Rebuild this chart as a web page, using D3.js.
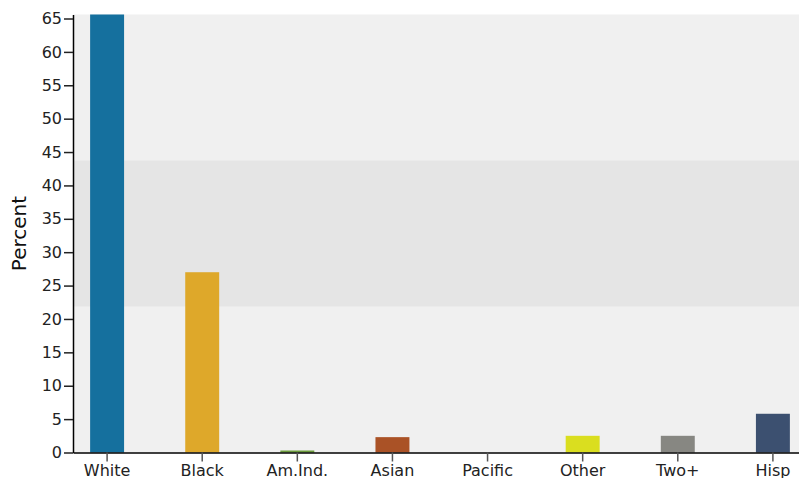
<!DOCTYPE html>
<html><head><meta charset="utf-8">
<script src="https://cdn.jsdelivr.net/npm/d3@7"></script>
<style>body{margin:0;background:#fff;} text{font-family:"DejaVu Sans",Verdana,sans-serif;}</style>
</head><body><svg id="c" width="799" height="478"></svg>
<script>
const categories = ["White","Black","Am.Ind.","Asian","Pacific","Other","Two+","Hisp"];
const values = [65.6, 27.0, 0.3, 2.3, 0, 2.5, 2.5, 5.8];
const colors = ["#15709e","#dea82a","#6a9a3a","#aa5226","#7a5aa0","#dade1f","#878782","#3c5070"];
const yTicks = [0,5,10,15,20,25,30,35,40,45,50,55,60,65];

(function(){
const svg = d3.select("#c");
const mLeft = 73, mTop = 14.5, mBottom = 452.5, rightBg = 810;
const x = d3.scaleBand().domain(categories).range([mLeft, 807]).paddingInner(0.643).paddingOuter(0.18);
const y = d3.scaleLinear().domain([0, d3.max(values)]).range([mBottom, mTop]);

svg.append("rect").attr("x", mLeft).attr("y", mTop).attr("width", rightBg-mLeft).attr("height", mBottom-mTop).attr("fill", "#f0f0f0");
const ymax = d3.max(values);
svg.append("rect").attr("x", mLeft).attr("y", y(ymax*2/3)).attr("width", rightBg-mLeft).attr("height", y(ymax/3)-y(ymax*2/3)).attr("fill", "#e5e5e5");

svg.selectAll("rect.bar").data(values).enter().append("rect").attr("class","bar")
  .attr("x", (d,i)=>x(categories[i])).attr("width", x.bandwidth())
  .attr("y", d=>y(d)).attr("height", d=>mBottom-y(d)).attr("fill", (d,i)=>colors[i]);

const ya = svg.append("g").attr("transform", `translate(${mLeft},0)`).call(d3.axisLeft(y).tickValues(yTicks).tickSize(9).tickPadding(2).tickSizeOuter(0));
ya.select(".domain").attr("stroke","#000").attr("stroke-width",1.5);
ya.selectAll(".tick line").attr("stroke","#222").attr("stroke-width",1.5);
ya.selectAll(".tick text").attr("font-size","16px").attr("fill","#222").attr("font-family","DejaVu Sans");

const xa = svg.append("g").attr("transform", `translate(0,${mBottom})`).call(d3.axisBottom(x).tickSize(9).tickPadding(3).tickSizeOuter(0));
xa.select(".domain").attr("stroke","#000").attr("stroke-width",1.5);
xa.selectAll(".tick line").attr("stroke","#555").attr("stroke-width",1.5);
xa.selectAll(".tick text").attr("font-size","16px").attr("fill","#222").attr("dy","0.71em").attr("font-family","DejaVu Sans");

svg.append("text").attr("transform", `translate(26,${(mTop+mBottom)/2}) rotate(-90)`)
  .attr("text-anchor","middle").attr("font-size","20px").attr("fill","#111").text("Percent");
})();
</script></body></html>
